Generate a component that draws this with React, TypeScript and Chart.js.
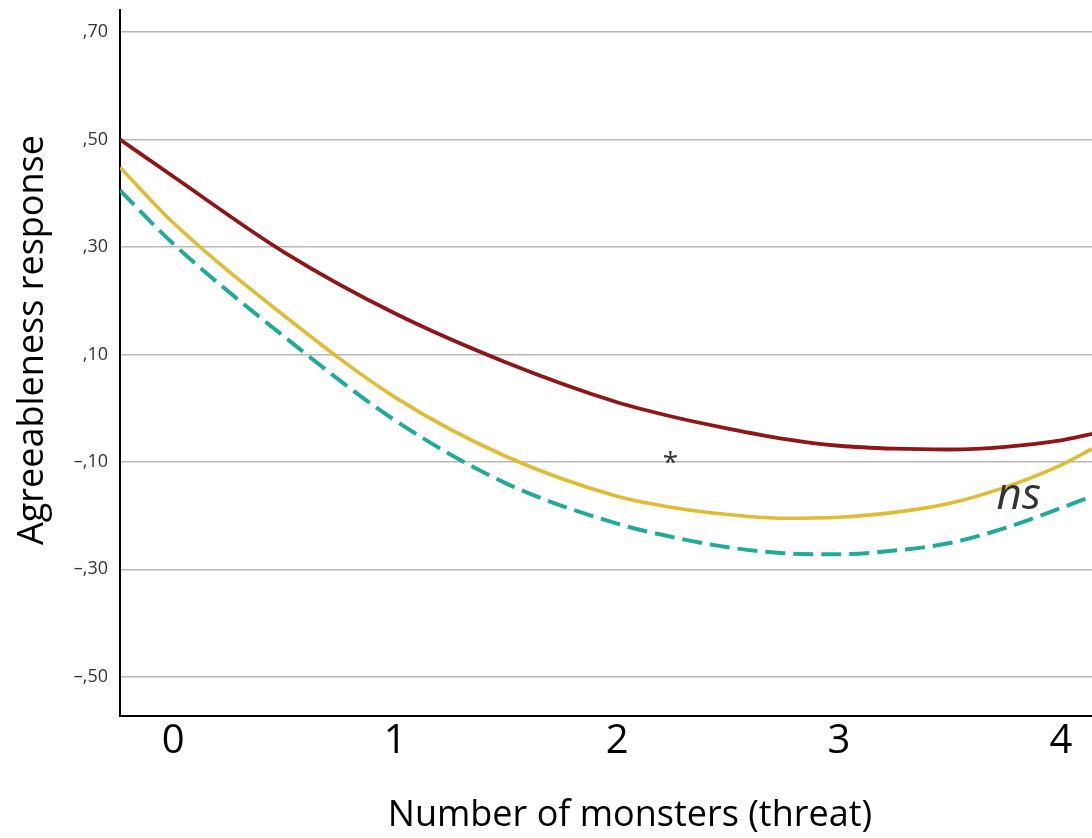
import React, { useEffect, useRef } from "react";
import { Chart, registerables } from "chart.js";

Chart.register(...registerables);

// Threat levels (x positions where the fitted curves were read)
const threatLevels = [-0.24, 0, 0.5, 1, 1.5, 2, 2.25, 2.5, 2.75, 3, 3.25, 3.5, 3.75, 4, 4.14];
// Series values
const redSeries = [0.5, 0.431, 0.29, 0.176, 0.085, 0.011, -0.016, -0.038, -0.057, -0.07, -0.0755, -0.077, -0.072, -0.06, -0.048];
const yellowSeries = [0.448, 0.345, 0.172, 0.02, -0.09, -0.164, -0.185, -0.198, -0.205, -0.203, -0.194, -0.177, -0.147, -0.106, -0.076];
const tealSeries = [0.405, 0.306, 0.133, -0.023, -0.14, -0.215, -0.24, -0.259, -0.27, -0.272, -0.265, -0.251, -0.223, -0.186, -0.164];

// Tick labels
const xTickValues = [0, 1, 2, 3, 4];
const yTickValues = [-0.5, -0.3, -0.1, 0.1, 0.3, 0.5, 0.7];

// Annotations
const annotTexts = ["*", "ns"];
const annotX = [2.24, 3.81];
const annotY = [-0.093, -0.172];

const xTitle = "Number of monsters (threat)";
const yTitle = "Agreeableness response";

const FONT = "'Open Sans', 'Liberation Sans', sans-serif";

function fmtY(v: number): string {
  const a = Math.round(Math.abs(v) * 100);
  return (v < 0 ? "\u2013" : "") + "," + String(a).padStart(2, "0");
}

const overlayPlugin = {
  id: "overlay",
  afterDraw(chart: any) {
    const { ctx, chartArea, scales } = chart;
    const xs = scales.x;
    const ys = scales.y;
    ctx.save();
    // annotations
    ctx.fillStyle = "#333333";
    ctx.textAlign = "center";
    ctx.textBaseline = "middle";
    annotTexts.forEach((t, i) => {
      const px = xs.getPixelForValue(annotX[i]);
      const py = ys.getPixelForValue(annotY[i]);
      if (t === "*") {
        ctx.font = `28px ${FONT}`;
        ctx.fillText(t, px, py + 6);
      } else {
        ctx.font = `italic 44px ${FONT}`;
        ctx.fillText(t, px, py - 4);
      }
    });
    // axis titles
    ctx.fillStyle = "#000000";
    ctx.font = `36px ${FONT}`;
    ctx.textAlign = "center";
    ctx.textBaseline = "middle";
    ctx.fillText(xTitle, (chartArea.left + chartArea.right) / 2 + 24, chartArea.bottom + 100);
    ctx.translate(chartArea.left - 87, (chartArea.top + chartArea.bottom) / 2 - 23);
    ctx.rotate(-Math.PI / 2);
    ctx.fillText(yTitle, 0, 0);
    ctx.restore();
  },
};

export default function App() {
  const canvasRef = useRef<HTMLCanvasElement | null>(null);

  useEffect(() => {
    if (!canvasRef.current) return;
    const mk = (arr: number[]) => threatLevels.map((x, i) => ({ x, y: arr[i] }));
    const chart = new Chart(canvasRef.current, {
      type: "line",
      data: {
        datasets: [
          {
            label: "Red",
            data: mk(redSeries),
            borderColor: "#8e1518",
            borderWidth: 3.8,
            pointRadius: 0,
            cubicInterpolationMode: "monotone",
            fill: false,
          },
          {
            label: "Yellow",
            data: mk(yellowSeries),
            borderColor: "#e0bb35",
            borderWidth: 3.6,
            pointRadius: 0,
            cubicInterpolationMode: "monotone",
            fill: false,
          },
          {
            label: "Teal",
            data: mk(tealSeries),
            borderColor: "#22aa98",
            borderWidth: 4,
            borderDash: [20, 8],
            pointRadius: 0,
            cubicInterpolationMode: "monotone",
            fill: false,
          },
        ],
      },
      options: {
        animation: false,
        responsive: true,
        maintainAspectRatio: false,
        layout: { padding: { top: 10, right: 0, left: 0, bottom: 0 } },
        plugins: {
          legend: { display: false },
          tooltip: { enabled: false },
        },
        scales: {
          x: {
            type: "linear",
            min: -0.24,
            max: 4.14,
            afterBuildTicks: (scale: any) => {
              scale.ticks = xTickValues.map((v) => ({ value: v }));
            },
            afterFit: (scale: any) => {
              scale.height = 122;
              scale.paddingLeft = 0;
              scale.paddingRight = 0;
            },
            grid: { display: false, drawTicks: false },
            border: { display: true, color: "#000000", width: 2 },
            ticks: {
              color: "#000000",
              padding: 2,
              maxRotation: 0,
              font: { family: FONT, size: 40, lineHeight: 1.2 },
              callback: (v: any) => String(v),
            },
          },
          y: {
            type: "linear",
            min: -0.573,
            max: 0.741,
            afterBuildTicks: (scale: any) => {
              scale.ticks = yTickValues.map((v) => ({ value: v }));
            },
            afterFit: (scale: any) => {
              scale.width = 120;
              scale.paddingTop = 0;
              scale.paddingBottom = 0;
            },
            grid: { color: "#b8b8b8", lineWidth: 1.5, drawTicks: false },
            border: { display: true, color: "#000000", width: 2 },
            ticks: {
              color: "#333333",
              padding: 12,
              font: { family: FONT, size: 18 },
              callback: (v: any) => fmtY(Number(v)),
            },
          },
        },
      },
      plugins: [overlayPlugin],
    });
    return () => chart.destroy();
  }, []);

  return (
    <div style={{ position: "absolute", left: 0, top: 0, width: 1092, height: 838, background: "#ffffff" }}>
      <canvas ref={canvasRef} />
    </div>
  );
}
